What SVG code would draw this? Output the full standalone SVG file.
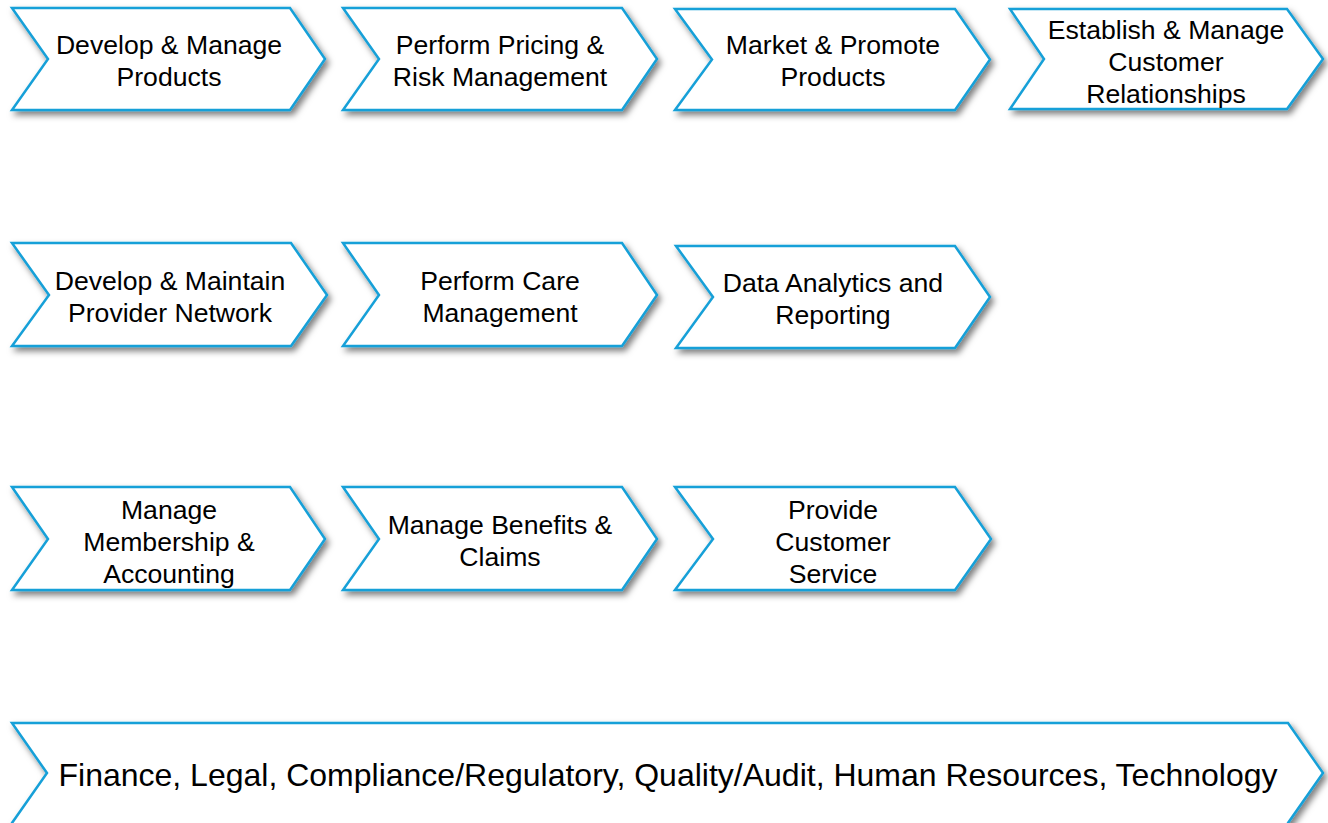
<svg xmlns="http://www.w3.org/2000/svg" width="1328" height="823" viewBox="0 0 1328 823">
  <defs>
    <filter id="shadow" x="-5%" y="-20%" width="115%" height="150%">
      <feDropShadow dx="3" dy="4" stdDeviation="3" flood-color="#000" flood-opacity="0.5"/>
    </filter>
  </defs>
  <style>
    .chev { fill: #ffffff; stroke: #17a0d8; stroke-width: 2.5; stroke-linejoin: miter; filter: url(#shadow); }
    .lbl { font-family: "Liberation Sans", Arial, sans-serif; font-size: 26.6px; fill: #000; text-anchor: middle; }
    .big { font-size: 32px; }
  </style>

  <!-- Row 1 -->
  <g id="develop-manage-products">
    <polygon class="chev" points="12,8 290,8 325,59 290,110 12,110 48,59"/>
    <text class="lbl" x="169" y="54">Develop &amp; Manage</text>
    <text class="lbl" x="169" y="86">Products</text>
  </g>
  <g id="pricing-risk">
    <polygon class="chev" points="343,8 622,8 657,59 622,110 343,110 379,59"/>
    <text class="lbl" x="500" y="54">Perform Pricing &amp;</text>
    <text class="lbl" x="500" y="86">Risk Management</text>
  </g>
  <g id="market-promote">
    <polygon class="chev" points="675,9 955,9 990,59.5 955,110 675,110 712,59.5"/>
    <text class="lbl" x="833" y="54">Market &amp; Promote</text>
    <text class="lbl" x="833" y="86">Products</text>
  </g>
  <g id="customer-relationships">
    <polygon class="chev" points="1010,9 1287,9 1323,59 1287,109 1010,109 1044,59"/>
    <text class="lbl" x="1166" y="39">Establish &amp; Manage</text>
    <text class="lbl" x="1166" y="71">Customer</text>
    <text class="lbl" x="1166" y="103">Relationships</text>
  </g>

  <!-- Row 2 -->
  <g id="provider-network">
    <polygon class="chev" points="12,243 291,243 327,295 291,346 12,346 49,295"/>
    <text class="lbl" x="170" y="290">Develop &amp; Maintain</text>
    <text class="lbl" x="170" y="322">Provider Network</text>
  </g>
  <g id="care-management">
    <polygon class="chev" points="343,243 622,243 657,295 622,346 343,346 379,295"/>
    <text class="lbl" x="500" y="290">Perform Care</text>
    <text class="lbl" x="500" y="322">Management</text>
  </g>
  <g id="data-analytics">
    <polygon class="chev" points="676,246 955,246 990,297 955,348 676,348 713,297"/>
    <text class="lbl" x="833" y="292">Data Analytics and</text>
    <text class="lbl" x="833" y="324">Reporting</text>
  </g>

  <!-- Row 3 -->
  <g id="membership-accounting">
    <polygon class="chev" points="12,487 290,487 325,539 290,590 12,590 48,539"/>
    <text class="lbl" x="169" y="519">Manage</text>
    <text class="lbl" x="169" y="551">Membership &amp;</text>
    <text class="lbl" x="169" y="583">Accounting</text>
  </g>
  <g id="benefits-claims">
    <polygon class="chev" points="343,487 622,487 657,539 622,590 343,590 379,539"/>
    <text class="lbl" x="500" y="534">Manage Benefits &amp;</text>
    <text class="lbl" x="500" y="566">Claims</text>
  </g>
  <g id="customer-service">
    <polygon class="chev" points="675,487 955,487 991,539 955,590 675,590 713,539"/>
    <text class="lbl" x="833" y="519">Provide</text>
    <text class="lbl" x="833" y="551">Customer</text>
    <text class="lbl" x="833" y="583">Service</text>
  </g>

  <!-- Support functions band; its lower edge sits below the canvas -->
  <g id="support-functions">
    <polygon class="chev" points="12,723 1288,723 1323,773 1288,823 1288,832 12,832 12,823 47,773"/>
    <text class="lbl big" x="668" y="786">Finance, Legal, Compliance/Regulatory, Quality/Audit, Human Resources, Technology</text>
  </g>
</svg>
